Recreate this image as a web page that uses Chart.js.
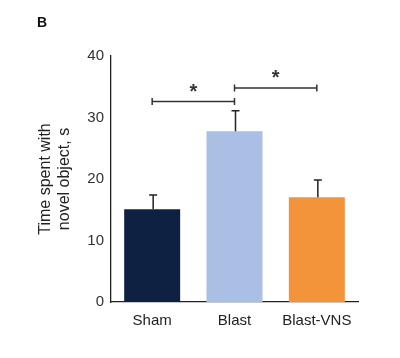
<!DOCTYPE html>
<html>
<head>
<meta charset="utf-8">
<script src="https://cdn.jsdelivr.net/npm/chart.js@4.4.1/dist/chart.umd.min.js"></script>
<style>
  html, body { margin: 0; padding: 0; background: #fff; }
  #wrap { width: 400px; height: 358px; }
</style>
</head>
<body>
<div id="wrap"><canvas id="chart" width="400" height="358"></canvas></div>
<script>
// Data
const groups = ['Sham', 'Blast', 'Blast-VNS'];
const meanTime = [15.1, 27.75, 17.05];
const errorUp = [2.3, 3.35, 2.8];
const barColors = ['#0f2142', '#a9bfe4', '#f4943a'];
const yTicks = [0, 10, 20, 30, 40];
// significance brackets: [from index, to index, bracket level]
const sigPairs = [[0, 1, 32.6], [1, 2, 34.8]];

const axisColor = '#222';
const fontFamily = '"Liberation Sans", Arial, sans-serif';

// Upper error bars, brackets, panel letter
const extrasPlugin = {
  id: 'extras',
  afterDatasetsDraw(chart) {
    const ctx = chart.ctx;
    const y = chart.scales.y;
    const bars = chart.getDatasetMeta(0).data;
    ctx.save();
    ctx.strokeStyle = axisColor;
    ctx.lineWidth = 1.5;
    bars.forEach((bar, i) => {
      const x = bar.x + 1;
      const yTop = y.getPixelForValue(meanTime[i] + errorUp[i]);
      const yBase = y.getPixelForValue(meanTime[i]);
      ctx.beginPath();
      ctx.moveTo(x, yBase);
      ctx.lineTo(x, yTop);
      ctx.moveTo(x - 4, yTop);
      ctx.lineTo(x + 4, yTop);
      ctx.stroke();
    });

    ctx.strokeStyle = '#333';
    ctx.lineWidth = 1.5;
    ctx.fillStyle = '#333';
    ctx.font = 'bold 20px ' + fontFamily;
    ctx.textAlign = 'center';
    ctx.textBaseline = 'middle';
    sigPairs.forEach(([a, b, lvl]) => {
      const x1 = bars[a].x;
      const x2 = bars[b].x;
      const yy = y.getPixelForValue(lvl);
      ctx.beginPath();
      ctx.moveTo(x1, yy);
      ctx.lineTo(x2, yy);
      ctx.moveTo(x1, yy - 3.5);
      ctx.lineTo(x1, yy + 3.5);
      ctx.moveTo(x2, yy - 3.5);
      ctx.lineTo(x2, yy + 3.5);
      ctx.stroke();
      ctx.fillText('*', (x1 + x2) / 2, y.getPixelForValue(lvl + 1.5));
    });

    ctx.fillStyle = '#111';
    ctx.font = 'bold 14px ' + fontFamily;
    ctx.textAlign = 'left';
    ctx.textBaseline = 'alphabetic';
    ctx.fillText('B', 37, 27);
    ctx.restore();
  }
};

new Chart(document.getElementById('chart'), {
  type: 'bar',
  data: {
    labels: groups,
    datasets: [{
      data: meanTime,
      backgroundColor: barColors,
      borderWidth: 0,
      barPercentage: 0.68,
      categoryPercentage: 1
    }]
  },
  options: {
    responsive: false,
    animation: false,
    layout: { padding: { top: 56, right: 42, left: 0, bottom: 0 } },
    plugins: { legend: { display: false }, tooltip: { enabled: false } },
    scales: {
      x: {
        grid: { display: false, drawTicks: false },
        border: { color: axisColor, width: 1.3 },
        ticks: {
          color: '#222',
          padding: 10,
          font: { family: fontFamily, size: 15 }
        },
        afterFit(scale) { scale.height = 56; }
      },
      y: {
        min: 0,
        max: 40,
        afterBuildTicks(scale) { scale.ticks = yTicks.map(v => ({ value: v })); },
        grid: { display: false, drawTicks: true, tickLength: 4, tickColor: axisColor, tickWidth: 1.3 },
        border: { color: axisColor, width: 1.3 },
        ticks: {
          color: '#333',
          padding: 3,
          font: { family: fontFamily, size: 15 }
        },
        title: {
          display: true,
          text: ['Time spent with', 'novel object, s'],
          color: '#222',
          padding: { top: 36, bottom: 0 },
          font: { family: fontFamily, size: 16, lineHeight: 1.2 }
        },
        afterFit(scale) { scale.width = 111; }
      }
    }
  },
  plugins: [extrasPlugin]
});
</script>
</body>
</html>
